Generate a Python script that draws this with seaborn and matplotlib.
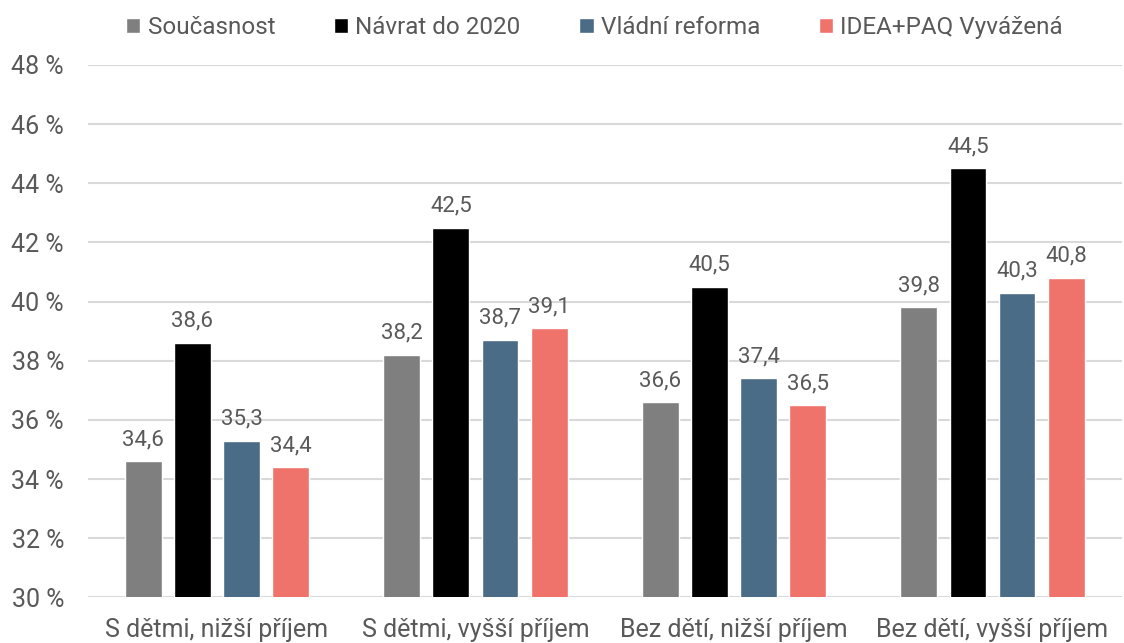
import pandas as pd
import seaborn as sns
import matplotlib
import matplotlib.pyplot as plt
from matplotlib.ticker import FuncFormatter
matplotlib.use('Agg')

# data
kategorie = ['S dětmi, nižší příjem', 'S dětmi, vyšší příjem',
             'Bez dětí, nižší příjem', 'Bez dětí, vyšší příjem']
scenare = ['Současnost', 'Návrat do 2020', 'Vládní reforma', 'IDEA+PAQ Vyvážená']
soucasnost = [34.6, 38.2, 36.6, 39.8]
navrat = [38.6, 42.5, 40.5, 44.5]
vladni = [35.3, 38.7, 37.4, 40.3]
idea = [34.4, 39.1, 36.5, 40.8]
barvy = ['#7f7f7f', '#000000', '#4a6c86', '#ef736b']

rows = []
for s, vals in zip(scenare, [soucasnost, navrat, vladni, idea]):
    for k, v in zip(kategorie, vals):
        rows.append({'kategorie': k, 'scenar': s, 'hodnota': v})
df = pd.DataFrame(rows)

sns.set_theme(style='white')
plt.rcParams['font.family'] = ['Roboto', 'DejaVu Sans']
text_col = '#595959'

fig = plt.figure(figsize=(11.24, 6.43), dpi=100)
ax = fig.add_axes([0.078, 0.071, 0.92, 0.828])

sns.barplot(data=df, x='kategorie', y='hodnota', hue='scenar', order=kategorie,
            hue_order=scenare, palette=barvy, width=0.76, gap=0.25,
            saturation=1, ax=ax, legend=True)

for cont in ax.containers:
    ax.bar_label(cont, labels=[f'{b.get_height():.1f}'.replace('.', ',') for b in cont],
                 padding=8, fontsize=16, color=text_col)

ax.set_ylim(30, 48)
ax.set_yticks(range(30, 49, 2))
ax.yaxis.set_major_formatter(FuncFormatter(lambda v, p: f'{v:.0f} %'))
ax.grid(axis='y', color='#d9d9d9', linewidth=1.5)
ax.set_axisbelow(True)
ax.set_xlim(-0.5, 3.5)
ax.set_xlabel('')
ax.set_ylabel('')
sns.despine(ax=ax, left=True, bottom=True)
ax.tick_params(axis='both', length=0, labelsize=18, colors=text_col)
ax.tick_params(axis='x', pad=15)
ax.tick_params(axis='y', pad=17)

handles, labels = ax.get_legend_handles_labels()
ax.legend(handles, labels, loc='center', bbox_to_anchor=(0.49, 1.07), ncol=4,
          frameon=False, fontsize=17.5, handlelength=0.6, handleheight=0.6,
          handletextpad=0.3, columnspacing=2.4, labelcolor=text_col)

plt.savefig('out.png', dpi=100)
